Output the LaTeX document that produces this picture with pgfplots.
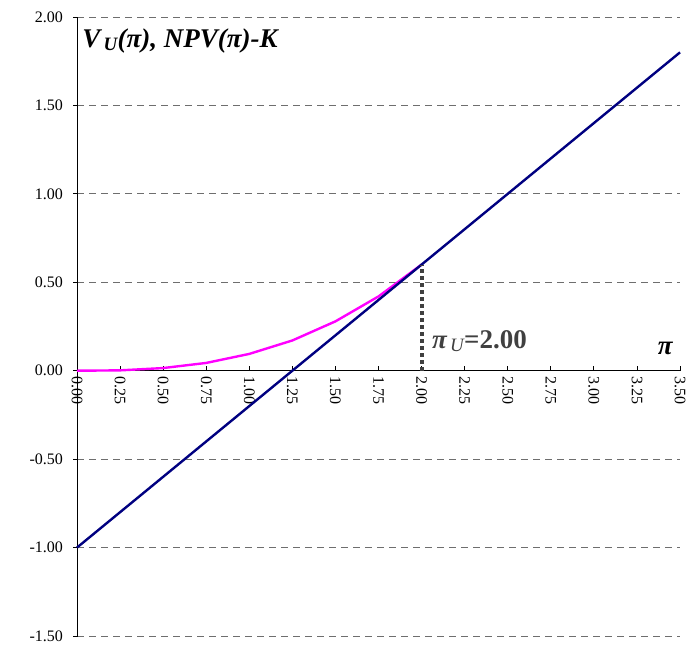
\documentclass[border=0pt]{standalone}
\usepackage{fontspec}
\setmainfont{Liberation Serif}
\usepackage{pgfplots}
\pgfplotsset{compat=1.18}
\definecolor{navyline}{RGB}{0,0,128}
\definecolor{magline}{RGB}{255,0,255}
\definecolor{gridgray}{RGB}{110,110,110}
\definecolor{dotgray}{RGB}{64,64,64}
\begin{document}
\begin{tikzpicture}
\useasboundingbox (0,0) rectangle (688pt,645pt);
\begin{axis}[
  at={(77pt,9pt)}, anchor=south west,
  scale only axis, width=603pt, height=619pt,
  xmin=0, xmax=3.5, ymin=-1.5, ymax=2,
  axis x line*=middle, axis y line*=left,
  hide obscured x ticks=false,
  clip=false,
  xtick={0,0.25,0.5,0.75,1,1.25,1.5,1.75,2,2.25,2.5,2.75,3,3.25,3.5},
  xticklabels={0.00,0.25,0.50,0.75,1.00,1.25,1.50,1.75,2.00,2.25,2.50,2.75,3.00,3.25,3.50},
  ytick={-1.5,-1,-0.5,0,0.5,1,1.5,2},
  yticklabels={-1.50,-1.00,-0.50,0.00,0.50,1.00,1.50,2.00},
  tick label style={font=\fontsize{16}{19}\selectfont},
  x tick label style={rotate=-90, anchor=west, xshift=0pt, yshift=0pt},
  y tick label style={xshift=-8pt},
  tick align=center, major tick length=5pt,
  xtick style={black, line width=0.8pt, yshift=2.5pt},
  ytick style={black, line width=0.8pt, xshift=-1.5pt},
  axis line style={black, line width=0.8pt},
  ymajorgrids,
  major grid style={gridgray, line width=0.8pt, dash pattern=on 7pt off 5pt},
]
\addplot[magline, line width=2.4pt] coordinates {
  (0,0) (0.25,0.002) (0.5,0.015) (0.75,0.044) (1,0.095) (1.25,0.171) (1.5,0.279) (1.75,0.42) (2,0.6)};
\addplot[navyline, line width=2.4pt] coordinates {(0,-1) (3.5,1.8)};
\addplot[dotgray, line width=4pt, dash pattern=on 4pt off 3pt] coordinates {(2,0) (2,0.6)};
\node[anchor=base west, inner sep=0pt, font=\fontsize{27}{32}\selectfont\bfseries\itshape] at (axis cs:0.03,1.83) {V\textsubscript{\,U}(π), NPV(π)-K};
\node[anchor=base west, inner sep=0pt, text=dotgray, font=\fontsize{27}{32}\selectfont\bfseries] at (axis cs:2.06,0.128) {\itshape π\textsubscript{\,\mdseries\itshape U}\upshape=2.00};
\node[anchor=base west, inner sep=0pt, font=\fontsize{27}{32}\selectfont\bfseries\itshape] at (axis cs:3.37,0.089) {π};
\end{axis}
\end{tikzpicture}
\end{document}
